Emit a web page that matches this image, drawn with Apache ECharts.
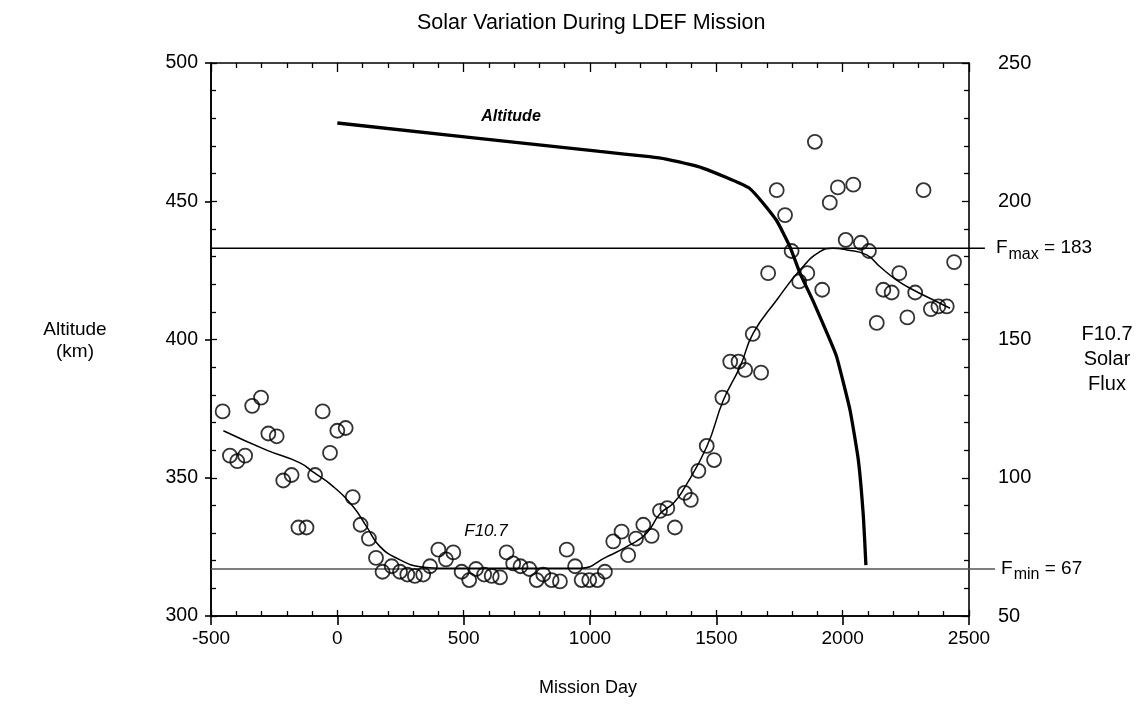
<!DOCTYPE html>
<html>
<head>
<meta charset="utf-8">
<script src="https://cdn.jsdelivr.net/npm/echarts@6/dist/echarts.min.js"></script>
<style>
html,body{margin:0;padding:0;background:#fff;}
#c{width:1147px;height:723px;}
</style>
</head>
<body>
<div id="c"></div>
<script>
// ---- data ----
const titleText = 'Solar Variation During LDEF Mission';
const xTicks = [-500, 0, 500, 1000, 1500, 2000, 2500];
const altTicks = [300, 350, 400, 450, 500];
const fluxTicks = [50, 100, 150, 200, 250];

// Altitude (km) vs mission day
const altitudeCurve = [
  [0,478.3],[1038,468],[1235,466.1],[1301,465.2],[1446,462],[1631,454.7],
  [1737,443.2],[1791,433.6],[1831,424],[1881,414.3],[1947,400.4],[1976,393.8],
  [2029,374.5],[2062,356.4],[2082,335.9],[2092,318.4]
];

// smoothed F10.7 solar flux vs mission day
const fluxCurve = [
  [-451,117],[-280,110],[-148,105.4],[-95,102],[-16,96.8],[63,89.5],[116,82.3],
  [169,75.1],[248,70.3],[327,67.8],[400,67.3],[960,67.3],[1066,71.4],[1158,75.7],
  [1224,79.9],[1277,87],[1330,90.8],[1369,95.6],[1462,111.2],[1528,128.1],
  [1594,140.2],[1646,152.3],[1739,164.3],[1831,175.1],[1910,181.8],[1960,183],
  [2016,182.4],[2095,180.6],[2148,176.3],[2214,171.5],[2280,167.9],[2359,164.3],
  [2425,161.3]
];

// F10.7 monthly observations (circles)
const fluxPoints = [
  [-454,124],[-425,108],[-396,106],[-365,108],[-337,126],[-302,129],[-273,116],
  [-240,115],[-214,99],[-181,101],[-154,82],[-122,82],[-88,101],[-58,124],[-29,109],
  [0,117],[33,118],[61,93],[92,83],[125,78],[153,71],[179,66],[215,68],[248,66],
  [277,65],[307,64.5],[340,65],[367,68],[400,74],[430,70.5],[459,73],[492,66],
  [522,63],[549,67],[581,65],[611,64.5],[644,64],[670,73],[696,69],[725,68],
  [760,67],[789,63],[815,65],[848,63],[881,62.5],[908,74],[941,68],[967,63],
  [997,63],[1029,63],[1059,66],[1092,77],[1125,80.5],[1151,72],[1182,78],
  [1211,83],[1244,79],[1277,88],[1306,89],[1336,82],[1375,94.5],[1399,92],
  [1429,102.5],[1462,111.5],[1491,106.4],[1524,129],[1555,142],[1588,142],
  [1614,139],[1644,152],[1677,138],[1705,174],[1739,204],[1772,195],[1798,182],
  [1828,171],[1860,174],[1890,221.5],[1919,168],[1949,199.5],[1981,205],
  [2012,186],[2042,206],[2072,185],[2104,182],[2135,156],[2161,168],[2194,167],
  [2224,174],[2256,158],[2287,167],[2320,204],[2349,161],[2379,162],[2412,162],
  [2441,178]
];

// reference flux levels: [startDay, endDay, flux, subscript]
const fLevels = [
  [-500, 2563, 183, 'max'],
  [-500, 2603, 67, 'min']
];

// ---- chart ----
const chart = echarts.init(document.getElementById('c'), null, {renderer:'canvas'});
const FONT = '"Liberation Sans", Arial, Helvetica, sans-serif';
const INK = '#000';

function xAx(extra){
  return Object.assign({
    type:'value', min:xTicks[0], max:xTicks[xTicks.length-1], interval:500,
    splitLine:{show:false},
    axisLine:{show:true, onZero:false, lineStyle:{color:INK, width:1.6}},
    axisLabel:{show:false},
    axisTick:{show:false},
    minorTick:{show:false}
  }, extra);
}
function yAx(min,max,extra){
  return Object.assign({
    type:'value', min:min, max:max, interval:50,
    splitLine:{show:false},
    axisLine:{show:true, onZero:false, lineStyle:{color:INK, width:1.6}},
    axisLabel:{show:false},
    axisTick:{show:false},
    minorTick:{show:false}
  }, extra);
}
const plain = v => String(v);

const option = {
  backgroundColor:'#fff',
  animation:false,
  textStyle:{fontFamily:FONT},
  title:{
    text:titleText, left:412, top:7,
    textStyle:{fontFamily:FONT, fontSize:21.5, fontWeight:'normal', color:INK}
  },
  grid:{left:211, right:178, top:63, bottom:107, containLabel:false},
  xAxis:[
    xAx({position:'bottom',
      axisLabel:{show:true, fontSize:19, color:INK, margin:13, fontFamily:FONT, formatter:plain},
      axisTick:{show:true, inside:false, length:9, lineStyle:{color:INK, width:1.6}}
    }),
    xAx({position:'bottom',
      axisTick:{show:true, inside:true, length:6, lineStyle:{color:INK, width:1.3}},
      minorTick:{show:true, splitNumber:5, length:5, lineStyle:{color:INK, width:1.3}}
    }),
    xAx({position:'top',
      axisTick:{show:true, inside:true, length:9, lineStyle:{color:INK, width:1.3}},
      minorTick:{show:true, splitNumber:5, length:5, lineStyle:{color:INK, width:1.3}}
    })
  ],
  yAxis:[
    yAx(altTicks[0], altTicks[altTicks.length-1], {position:'left',
      axisLabel:{show:true, fontSize:19.5, color:INK, margin:13, fontFamily:FONT, formatter:plain},
      axisTick:{show:true, inside:false, length:6, lineStyle:{color:INK, width:1.6}}
    }),
    yAx(altTicks[0], altTicks[altTicks.length-1], {position:'left',
      axisTick:{show:true, inside:true, length:6, lineStyle:{color:INK, width:1.3}},
      minorTick:{show:true, splitNumber:5, length:5, lineStyle:{color:INK, width:1.3}}
    }),
    yAx(fluxTicks[0], fluxTicks[fluxTicks.length-1], {position:'right',
      axisLabel:{show:true, fontSize:20, color:INK, margin:29, fontFamily:FONT, formatter:plain},
      axisTick:{show:true, inside:true, length:7, lineStyle:{color:INK, width:1.3}},
      minorTick:{show:true, splitNumber:5, length:5, lineStyle:{color:INK, width:1.3}}
    })
  ],
  series:[
    {
      name:'Flux levels', type:'custom', xAxisIndex:0, yAxisIndex:2, clip:false, silent:true,
      data:fLevels,
      encode:{x:[0,1], y:2},
      renderItem:function(params, api){
        const y = api.value(2);
        const p0 = api.coord([api.value(0), y]);
        const p1 = api.coord([api.value(1), y]);
        const sub = fLevels[params.dataIndex][3];
        const isMin = sub === 'min';
        return {
          type:'group',
          children:[
            {type:'line', shape:{x1:p0[0], y1:p0[1], x2:p1[0], y2:p1[1]},
              style:{stroke:isMin ? '#555' : INK, lineWidth:1.3}},
            {type:'text', x:p1[0] + (isMin ? 6 : 11), y:p1[1],
              style:{
                text:'{f|F}{s|' + sub + '}{f| = ' + y + '}',
                align:'left', verticalAlign:'middle',
                rich:{
                  f:{fontSize:19, fontFamily:FONT, fill:INK},
                  s:{fontSize:16, fontFamily:FONT, fill:INK, padding:[12,0,0,1]}
                }
              }}
          ]
        };
      }
    },
    {
      name:'F10.7 fit', type:'line', xAxisIndex:0, yAxisIndex:2,
      data:fluxCurve, smooth:0.5, symbol:'none',
      lineStyle:{color:INK, width:1.5}
    },
    {
      name:'Altitude', type:'line', xAxisIndex:0, yAxisIndex:0,
      data:altitudeCurve, smooth:0.15, symbol:'none',
      lineStyle:{color:INK, width:3.3}
    },
    {
      name:'F10.7', type:'scatter', xAxisIndex:0, yAxisIndex:2,
      data:fluxPoints, symbol:'circle', symbolSize:14,
      itemStyle:{color:'rgba(255,255,255,0)', borderColor:INK, borderWidth:1.8}
    }
  ],
  graphic:[
    {type:'text', style:{text:'Altitude', x:511, y:117, textAlign:'center', textVerticalAlign:'middle',
      font:'italic bold 16px ' + FONT, fill:INK}},
    {type:'text', style:{text:'F10.7', x:486, y:531, textAlign:'center', textVerticalAlign:'middle',
      font:'italic 17px ' + FONT, fill:INK}},
    {type:'text', style:{text:'Altitude\n(km)', x:75, y:341, textAlign:'center', textVerticalAlign:'middle',
      font:'19px ' + FONT, fill:INK, lineHeight:22}},
    {type:'text', style:{text:'F10.7\nSolar\nFlux', x:1107, y:359, textAlign:'center', textVerticalAlign:'middle',
      font:'20px ' + FONT, fill:INK, lineHeight:25}},
    {type:'text', style:{text:'Mission Day', x:588, y:688, textAlign:'center', textVerticalAlign:'middle',
      font:'18px ' + FONT, fill:INK}}
  ]
};
chart.setOption(option);
</script>
</body>
</html>
